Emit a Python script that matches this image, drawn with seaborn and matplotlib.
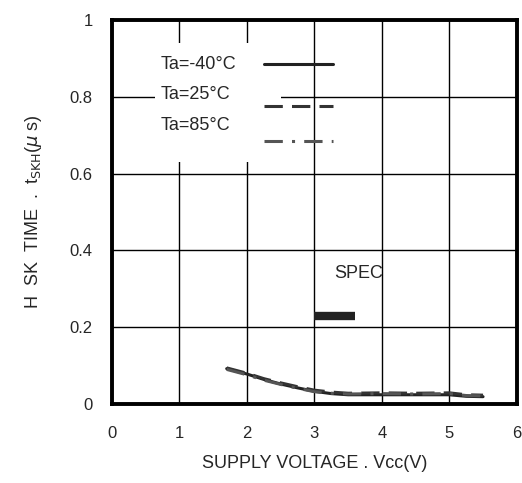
import numpy as np
import pandas as pd
import matplotlib.pyplot as plt
import seaborn as sns
from matplotlib.patches import Rectangle

# curves
vcc = [1.7, 2.0, 2.25, 2.5, 2.75, 3.0, 3.25, 3.5, 4.0, 4.5, 5.0, 5.25, 5.5]
t_m40 = [0.092, 0.078, 0.064, 0.052, 0.042, 0.033, 0.027, 0.024, 0.024, 0.024, 0.024, 0.020, 0.019]
t_25 = [0.094, 0.080, 0.066, 0.055, 0.045, 0.036, 0.031, 0.028, 0.029, 0.028, 0.029, 0.024, 0.023]
t_85 = [0.090, 0.076, 0.062, 0.051, 0.041, 0.032, 0.028, 0.026, 0.027, 0.026, 0.027, 0.022, 0.021]
labels = ["Ta=-40°C", "Ta=25°C", "Ta=85°C"]
spec_x = [3.0, 3.6]
spec_y = [0.23, 0.23]

sns.set_style("white")
plt.rcParams['font.family'] = ['Liberation Sans', 'DejaVu Sans']

fig = plt.figure(figsize=(5.22, 4.83), dpi=100)
ax = fig.add_axes([0.2146, 0.1636, 0.7754, 0.795])

styles = ["-", (0, (6, 3)), (0, (6, 3, 1, 3))]
colors = ["#222222", "#333333", "#555555"]
for ys, ls, c in zip([t_m40, t_25, t_85], styles, colors):
    sns.lineplot(x=vcc, y=ys, ax=ax, color=c, linestyle=ls, linewidth=2.2)

sns.lineplot(x=spec_x, y=spec_y, ax=ax, color="#222222", linewidth=6,
             solid_capstyle="butt")
ax.text(3.3, 0.34, "SPEC", fontsize=13, ha="left", va="center")

ax.set_xlim(0, 6)
ax.set_ylim(0, 1)
ax.set_xticks(range(0, 7))
ax.set_yticks([0, 0.2, 0.4, 0.6, 0.8, 1.0])
ax.set_yticklabels(["0", "0.2", "0.4", "0.6", "0.8", "1"])
ax.grid(True, color="black", linewidth=1)
ax.set_axisbelow(True)
ax.tick_params(length=0, labelsize=12)
ax.tick_params(axis="x", pad=16)
ax.tick_params(axis="y", pad=14)
for s in ax.spines.values():
    s.set_visible(True)
    s.set_color("black")
    s.set_linewidth(2.8)

ax.set_xlabel("SUPPLY VOLTAGE . Vcc(V)", fontsize=13, labelpad=10)
ax.set_ylabel(r"H  SK  TIME  .  t$_{\rm SKH}$($\mu$ s)", fontsize=13, labelpad=18)

# legend area: white box hiding the grid, text labels and sample lines
ax.add_patch(Rectangle((0.63, 0.63), 1.87, 0.31, facecolor="white",
                       edgecolor="none", zorder=1.5))
leg_y = [0.885, 0.805, 0.725]
line_y = [0.885, 0.775, 0.685]
for lab, ty, ly, ls, c in zip(labels, leg_y, line_y, styles, colors):
    ax.text(0.72, ty, lab, fontsize=13, ha="left", va="center", zorder=3)
    ax.plot([2.26, 3.27], [ly, ly], color=c, linestyle=ls, linewidth=2.2, zorder=3)

fig.savefig("out.png", dpi=100)
